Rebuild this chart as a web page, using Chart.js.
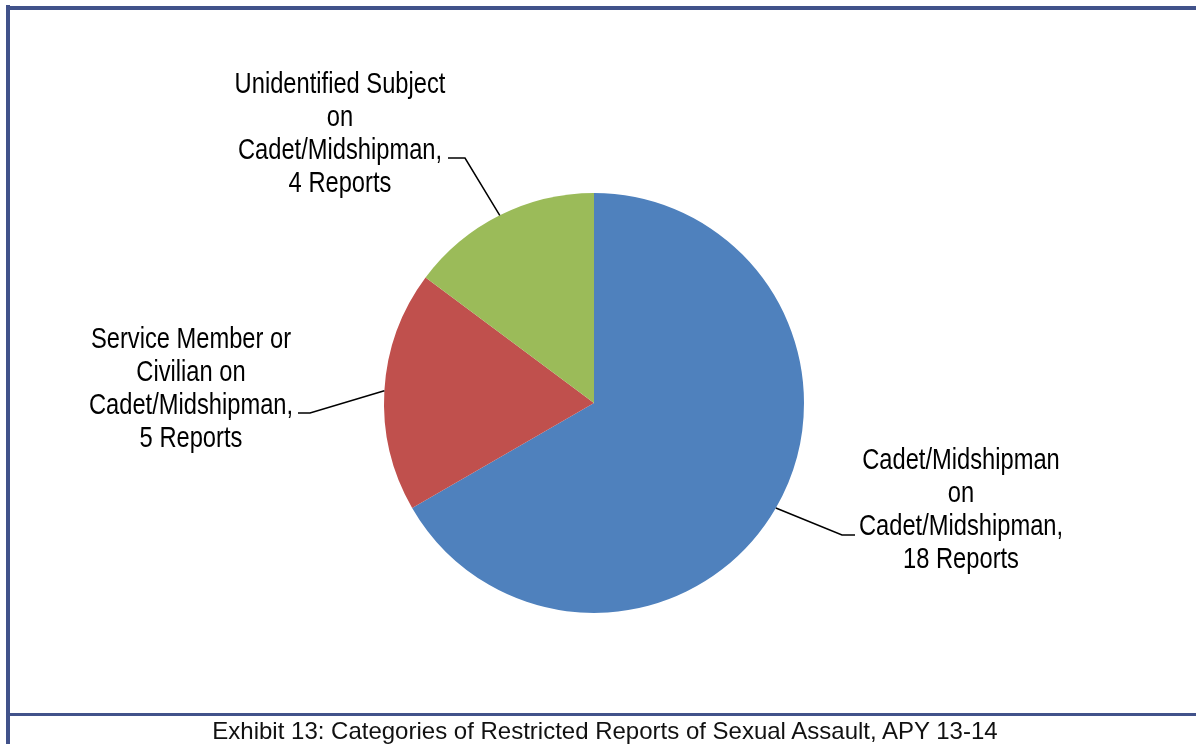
<!DOCTYPE html>
<html>
<head>
<meta charset="utf-8">
<script src="https://cdn.jsdelivr.net/npm/chart.js@4.4.0/dist/chart.umd.min.js"></script>
<style>
  html, body { margin: 0; padding: 0; background: #fff; }
  #wrap { position: relative; width: 1196px; height: 744px; overflow: hidden; }
  #pieChart { position: absolute; left: 0; top: 0; }
  /* 枠線 */
  .frame { position: absolute; background: #41528a; }
  #frameLeft { left: 6px; top: 5px; width: 4px; height: 739px; }
  #frameTop { left: 6px; top: 6px; width: 1190px; height: 4px; }
  #frameBottom { left: 10px; top: 713px; width: 1186px; height: 3px; }
  #caption {
    position: absolute; left: 10px; width: 1190px; top: 717px;
    text-align: center; font-family: "Liberation Sans", Arial, sans-serif;
    font-size: 24px; line-height: 28px; color: #111;
  }
</style>
</head>
<body>
<div id="wrap">
  <canvas id="pieChart" width="1196" height="744"></canvas>
  <div class="frame" id="frameLeft"></div>
  <div class="frame" id="frameTop"></div>
  <div class="frame" id="frameBottom"></div>
  <div id="caption">Exhibit 13: Categories of Restricted Reports of Sexual Assault, APY 13-14</div>
</div>
<script>
// ----- データ -----
const categories = [
    'Cadet/Midshipman on Cadet/Midshipman',
    'Service Member or Civilian on Cadet/Midshipman',
    'Unidentified Subject on Cadet/Midshipman'
];
const reportCounts = [18, 5, 4];
const sliceColors = ['#4f81bd', '#c0504d', '#9bbb59'];

// ラベルの行（表示用）
const labelLines = [
    ['Cadet/Midshipman', 'on', 'Cadet/Midshipman,', reportCounts[0] + ' Reports'],
    ['Service Member or', 'Civilian on', 'Cadet/Midshipman,', reportCounts[1] + ' Reports'],
    ['Unidentified Subject', 'on', 'Cadet/Midshipman,', reportCounts[2] + ' Reports']
];

// ラベルの配置（中心x、1行目のベースラインy、引き出し線の折れ点）
const labelLayout = [
    { cx: 961, base: 469, elbow: [855, 535], tick: [842, 535] },
    { cx: 191, base: 348, elbow: [298, 413], tick: [310, 413] },
    { cx: 340, base: 93, elbow: [448, 158], tick: [465, 158] }
];

// Arial Narrow が無いので Liberation Sans を横に縮めて代用
const labelFont = '30px "Liberation Sans", Arial, sans-serif';
const narrowScale = 0.79;
const lineStep = 33;

// 引き出し線とラベルを描くプラグイン
const leaderLabels = {
    id: 'leaderLabels',
    afterDatasetsDraw(chart) {
        const ctx = chart.ctx;
        const arcs = chart.getDatasetMeta(0).data;
        ctx.save();
        arcs.forEach((arc, i) => {
            const p = arc.getProps(['x', 'y', 'startAngle', 'endAngle', 'outerRadius'], true);
            const mid = (p.startAngle + p.endAngle) / 2;
            const ex = p.x + Math.cos(mid) * p.outerRadius;
            const ey = p.y + Math.sin(mid) * p.outerRadius;
            const lay = labelLayout[i];

            ctx.strokeStyle = '#000';
            ctx.lineWidth = 1.5;
            ctx.beginPath();
            ctx.moveTo(lay.elbow[0], lay.elbow[1]);
            ctx.lineTo(lay.tick[0], lay.tick[1]);
            ctx.lineTo(ex, ey);
            ctx.stroke();

            ctx.save();
            ctx.translate(lay.cx, 0);
            ctx.scale(narrowScale, 1);
            ctx.fillStyle = '#000';
            ctx.font = labelFont;
            ctx.textAlign = 'center';
            ctx.textBaseline = 'alphabetic';
            labelLines[i].forEach((line, j) => {
                ctx.fillText(line, 0, lay.base + j * lineStep);
            });
            ctx.restore();
        });
        ctx.restore();
    }
};

const pieCanvas = document.getElementById('pieChart');

new Chart(pieCanvas, {
    type: 'pie',
    data: {
        labels: categories,
        datasets: [{
            data: reportCounts,
            backgroundColor: sliceColors,
            borderWidth: 0
        }]
    },
    options: {
        responsive: false,
        animation: false,
        // 円の中心 (594,403)、半径210になるように余白を設定
        layout: { padding: { left: 384, right: 392, top: 193, bottom: 131 } },
        plugins: {
            legend: { display: false },
            tooltip: { enabled: false }
        }
    },
    plugins: [leaderLabels]
});
</script>
</body>
</html>
